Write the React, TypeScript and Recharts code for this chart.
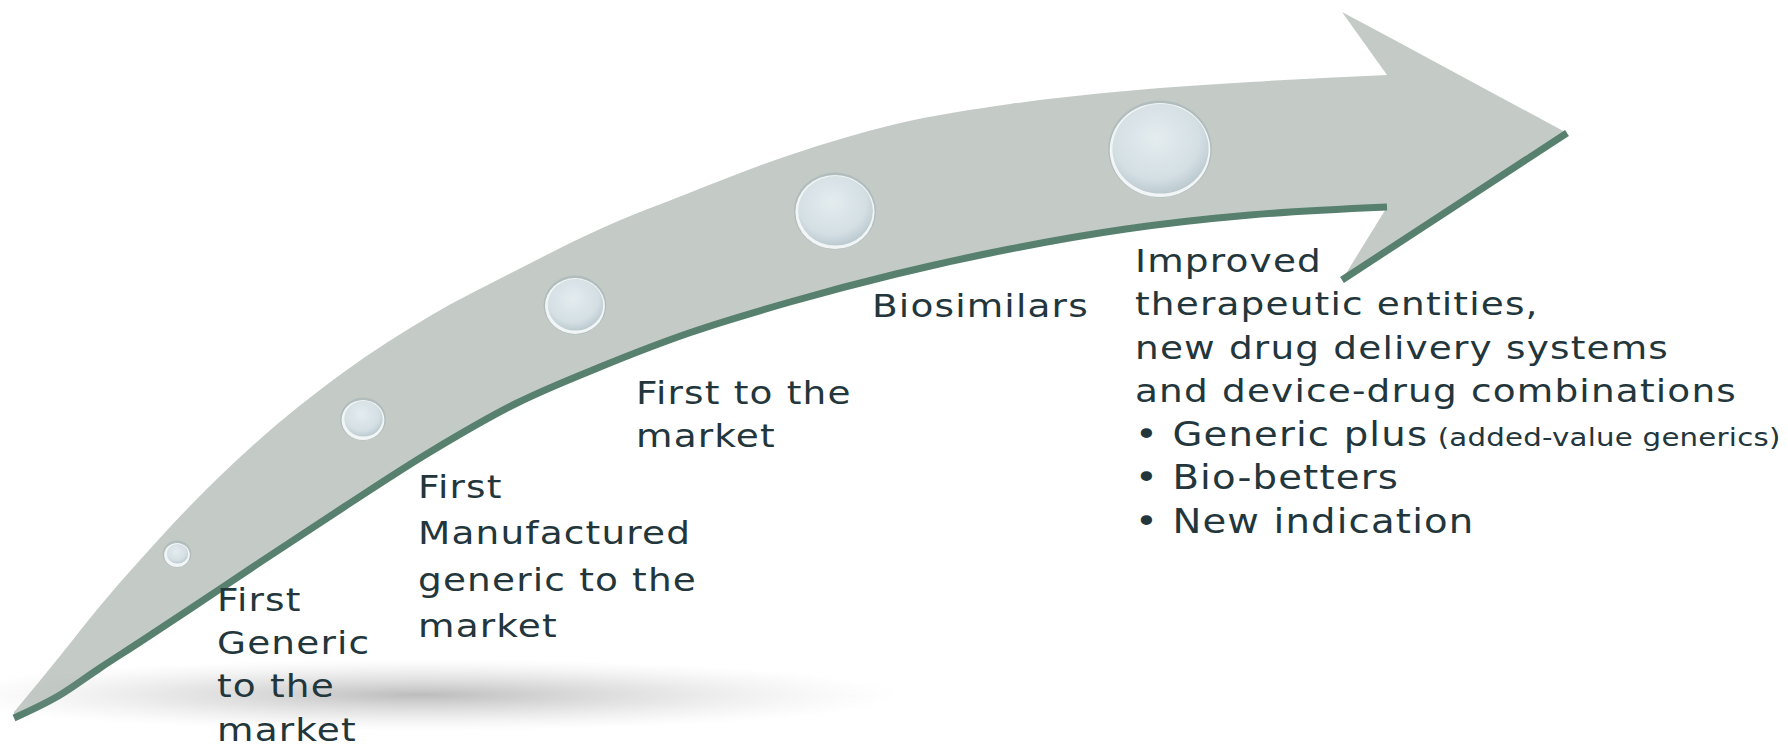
import React from 'react'
import { ComposedChart, Area, Line, Scatter, XAxis, YAxis, ZAxis, ReferenceDot } from 'recharts'

const W = 1788
const H = 749

// arrow body, sampled along x (y grows downward, as in the picture)
const bodyX = [14, 60, 100, 140, 190, 250, 344, 430, 517, 600, 689, 790, 896, 1010, 1126, 1250, 1387]
const bodyTop = [712, 656, 606, 560, 506, 448, 372, 316, 270, 229, 193, 155, 124, 104, 91, 82, 75]
const bodyBottom = [718, 695, 668, 642, 609, 569, 507, 452, 403, 367, 333, 302, 274, 249, 229, 215, 207]

// arrow head and its two barbs
const headX = [1387, 1567]
const headTop = [36, 133]
const headBottom = [251, 133]
const barbX = [1342, 1387]
const upperBarbOuter = [12, 36]
const upperBarbInner = [12, 75]
const lowerBarbInner = [280, 207]
const lowerBarbOuter = [280, 251]
const headEdgeX = [1342, 1567]
const headEdgeY = [280, 133]

// the five stage bubbles
const stageX = [177, 363, 575, 835, 1160]
const stageY = [555, 420, 306, 212, 150]
const stageR = [12, 20, 28, 37, 47]

// texts
const stageLabels = [
  ['First', 'Generic', 'to the', 'market'],
  ['First', 'Manufactured', 'generic to the', 'market'],
  ['First to the', 'market'],
  ['Biosimilars'],
  ['Improved', 'therapeutic entities,', 'new drug delivery systems', 'and device-drug combinations'],
]
const bullets = ['Generic plus', 'Bio-betters', 'New indication']
const bulletNote = '(added-value generics)'

// label anchors (first baseline) and leading
const labelX = [217, 418, 636, 872, 1135]
const labelY = [611, 498, 404, 317, 272]
const labelLead = [43.2, 46.5, 43, 43, 43.5]

const ARROW = '#c4cbc7'
const GREEN = '#57806f'
const INK = '#22363c'
const FONT = '"DejaVu Sans", sans-serif'
const TEXT_STRETCH = 1.17
const BUBBLE_STRETCH = 1.07

const bodyData = bodyX.map((x, i) => ({ x, band: [bodyTop[i], bodyBottom[i]], edge: bodyBottom[i] }))
const headData = headX.map((x, i) => ({ x, band: [headTop[i], headBottom[i]] }))
const upperBarbData = barbX.map((x, i) => ({ x, band: [upperBarbOuter[i], upperBarbInner[i]] }))
const lowerBarbData = barbX.map((x, i) => ({ x, band: [lowerBarbInner[i], lowerBarbOuter[i]] }))
const headEdgeData = headEdgeX.map((x, i) => ({ x, edge: headEdgeY[i] }))
const bubbleData = stageX.map((x, i) => ({ x, y: stageY[i], z: stageR[i] * stageR[i] }))

const Bubble = (props: any) => {
  const { cx, cy, width, size } = props
  const r = width ? width / 2 : Math.sqrt((size || 0) / Math.PI)
  const rx = r * BUBBLE_STRETCH
  const id = `bub-${Math.round(cx)}`
  return (
    <g>
      <defs>
        <radialGradient id={id} cx="45%" cy="38%" r="65%">
          <stop offset="0%" stopColor="#e4ecef" />
          <stop offset="70%" stopColor="#d4dfe4" />
          <stop offset="100%" stopColor="#b8c7cd" />
        </radialGradient>
      </defs>
      <ellipse cx={cx} cy={cy - 1} rx={rx + 1.5} ry={r + 1.5} fill="#a3b1b4" opacity={0.55} />
      <ellipse cx={cx} cy={cy} rx={rx} ry={r} fill="#f2f5f5" />
      <ellipse cx={cx + 0.5} cy={cy - 1.2} rx={rx - 2.2} ry={r - 2.2} fill={`url(#${id})`} />
    </g>
  )
}

const Shadow = (props: any) => (
  <g>
    <defs>
      <radialGradient id="floor-shadow" cx="50%" cy="50%" r="50%">
        <stop offset="0%" stopColor="#606060" stopOpacity={0.42} />
        <stop offset="50%" stopColor="#8a8a8a" stopOpacity={0.22} />
        <stop offset="100%" stopColor="#bbbbbb" stopOpacity={0} />
      </radialGradient>
    </defs>
    <ellipse cx={props.cx} cy={props.cy} rx={480} ry={36} fill="url(#floor-shadow)" />
  </g>
)

const textProps = { fill: INK, fontFamily: FONT, fontSize: 32, letterSpacing: 1 }

const StageText = ({ cx, cy, idx }: { cx: number; cy: number; idx: number }) => {
  const lines = stageLabels[idx]
  const lead = labelLead[idx]
  return (
    <g transform={`translate(${cx},${cy}) scale(${TEXT_STRETCH},1)`}>
      <text x={0} y={0} {...textProps}>
        {lines.map((l, i) => (
          <tspan key={i} x={0} y={i * lead}>
            {l}
          </tspan>
        ))}
        {idx === 4 &&
          bullets.map((b, j) => (
            <tspan key={`b${j}`} x={0} y={(lines.length + j) * lead} fontSize={33}>
              {'\u2022 ' + b}
              {j === 0 && (
                <tspan fontSize={25} letterSpacing={0.2}>
                  {' ' + bulletNote}
                </tspan>
              )}
            </tspan>
          ))}
      </text>
    </g>
  )
}

export default function App() {
  return (
    <div style={{ position: 'absolute', left: 0, top: 0, width: W, height: H, background: '#fff' }}>
      <ComposedChart width={W} height={H} margin={{ top: 0, right: 0, bottom: 0, left: 0 }}>
        <XAxis type="number" dataKey="x" domain={[0, W]} hide />
        <YAxis type="number" domain={[0, H]} reversed hide />
        <ZAxis type="number" dataKey="z" domain={[0, 2500]} range={[0, Math.PI * 2500]} />

        <ReferenceDot x={420} y={695} r={0} shape={Shadow} />

        <Area data={bodyData} dataKey="band" type="monotone" fill={ARROW} fillOpacity={1} stroke="none" dot={false} activeDot={false} isAnimationActive={false} />
        <Area data={upperBarbData} dataKey="band" type="linear" fill={ARROW} fillOpacity={1} stroke="none" dot={false} activeDot={false} isAnimationActive={false} />
        <Area data={lowerBarbData} dataKey="band" type="linear" fill={ARROW} fillOpacity={1} stroke="none" dot={false} activeDot={false} isAnimationActive={false} />
        <Area data={headData} dataKey="band" type="linear" fill={ARROW} fillOpacity={1} stroke="none" dot={false} activeDot={false} isAnimationActive={false} />

        <Line data={bodyData} dataKey="edge" type="monotone" stroke={GREEN} strokeWidth={7} dot={false} activeDot={false} isAnimationActive={false} />
        <Line data={headEdgeData} dataKey="edge" type="linear" stroke={GREEN} strokeWidth={7} dot={false} activeDot={false} isAnimationActive={false} />

        <Scatter data={bubbleData} dataKey="y" shape={Bubble} isAnimationActive={false} />

        {labelX.map((x, i) => (
          <ReferenceDot
            key={i}
            x={x}
            y={labelY[i]}
            r={0}
            shape={(p: any) => <StageText cx={p.cx} cy={p.cy} idx={i} />}
          />
        ))}
      </ComposedChart>
    </div>
  )
}
